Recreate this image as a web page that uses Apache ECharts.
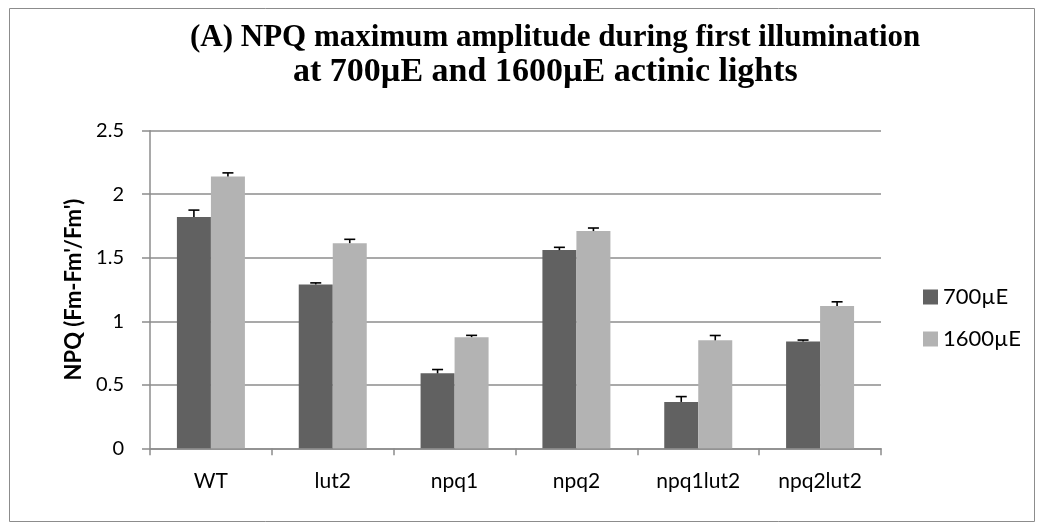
<!DOCTYPE html>
<html>
<head>
<meta charset="utf-8">
<script src="https://cdn.jsdelivr.net/npm/echarts@6/dist/echarts.min.js"></script>
<style>
  html, body { margin: 0; padding: 0; background: #fff; }
  #chart { width: 1044px; height: 530px; }
</style>
</head>
<body>
<div id="chart"></div>
<script>
// NPQ maximum amplitude per genotype, two actinic light intensities
const categories = ['WT', 'lut2', 'npq1', 'npq2', 'npq1lut2', 'npq2lut2'];
const seriesNames = ['700µE', '1600µE'];
const npq700 = [1.82, 1.29, 0.59, 1.56, 0.365, 0.84];
const npq1600 = [2.14, 1.615, 0.875, 1.71, 0.85, 1.12];
const err700 = [0.055, 0.012, 0.03, 0.022, 0.042, 0.012];
const err1600 = [0.028, 0.03, 0.014, 0.024, 0.038, 0.033];
const yTicks = [0, 0.5, 1, 1.5, 2, 2.5];

const darkGrey = '#616161';
const lightGrey = '#b3b3b3';
const axisGrey = '#8c8c8c';
const labelFont = 'Lato, "Open Sans", sans-serif';
const serif = '"Liberation Serif", "Times New Roman", serif';

const chart = echarts.init(document.getElementById('chart'));

// error bars drawn upward from each bar top, shifted onto the bar centre
function errorBars(values, errors, side) {
  return {
    type: 'custom',
    silent: true,
    z: 5,
    data: values.map((v, i) => [i, v, errors[i]]),
    encode: { x: 0, y: 1 },
    renderItem: function (params, api) {
      const i = api.value(0);
      const v = api.value(1);
      const e = api.value(2);
      const bandW = api.size([1, 0])[0];
      const dx = side * bandW * 0.1396;
      const base = api.coord([i, v]);
      const top = api.coord([i, v + e]);
      const x = base[0] + dx;
      const cap = 5.5;
      const style = { stroke: '#000', lineWidth: 1.6 };
      return {
        type: 'group',
        children: [
          { type: 'line', shape: { x1: x, y1: base[1], x2: x, y2: top[1] }, style: style },
          { type: 'line', shape: { x1: x - cap, y1: top[1], x2: x + cap, y2: top[1] }, style: style }
        ]
      };
    }
  };
}

chart.setOption({
  animation: false,
  backgroundColor: '#fff',
  graphic: [
    { type: 'rect', shape: { x: 9.5, y: 8.5, width: 1025, height: 513 },
      style: { fill: 'none', stroke: '#8c8c8c', lineWidth: 1 }, z: -1 },
    { type: 'text', x: 190, y: 38,
      style: { text: '(A) NPQ maximum amplitude during first illumination',
        font: 'bold 31px ' + serif, fill: '#000', align: 'left', verticalAlign: 'middle' } },
    { type: 'text', x: 293, y: 72,
      style: { text: 'at 700µE and 1600µE actinic lights',
        font: 'bold 34px ' + serif, fill: '#000', align: 'left', verticalAlign: 'middle' } }
  ],
  grid: { left: 150, right: 163, top: 130.7, bottom: 81.7, containLabel: false },
  legend: {
    orient: 'vertical',
    left: 918,
    top: 281,
    itemWidth: 15,
    itemHeight: 15,
    itemGap: 20,
    icon: 'rect',
    data: seriesNames,
    textStyle: { fontFamily: labelFont, fontSize: 22, color: '#000' }
  },
  xAxis: {
    type: 'category',
    data: categories,
    axisLine: { lineStyle: { color: axisGrey, width: 1.5 } },
    axisTick: { show: true, length: 7, inside: false, lineStyle: { color: axisGrey, width: 1.5 } },
    axisLabel: { margin: 22, fontFamily: labelFont, fontSize: 21, color: '#000' },
    splitLine: { show: false }
  },
  yAxis: {
    type: 'value',
    min: 0,
    max: 2.5,
    interval: 0.5,
    name: "NPQ (Fm-Fm'/Fm')",
    nameLocation: 'middle',
    nameRotate: 90,
    nameGap: 62,
    nameTextStyle: { fontFamily: labelFont, fontSize: 22, fontWeight: 'bold', color: '#000' },
    axisLine: { show: true, lineStyle: { color: axisGrey, width: 1.5 } },
    axisTick: { show: true, length: 8, lineStyle: { color: axisGrey, width: 1.5 } },
    axisLabel: {
      margin: 26, fontFamily: labelFont, fontSize: 20, color: '#000',
      formatter: v => yTicks.includes(v) ? String(v) : ''
    },
    splitLine: { show: true, lineStyle: { color: axisGrey, width: 1.5 } }
  },
  series: [
    { name: seriesNames[0], type: 'bar', data: npq700, barWidth: 34, barGap: '0%',
      itemStyle: { color: darkGrey } },
    { name: seriesNames[1], type: 'bar', data: npq1600, barWidth: 34, barGap: '0%',
      itemStyle: { color: lightGrey } },
    errorBars(npq700, err700, -1),
    errorBars(npq1600, err1600, 1)
  ]
});
</script>
</body>
</html>
